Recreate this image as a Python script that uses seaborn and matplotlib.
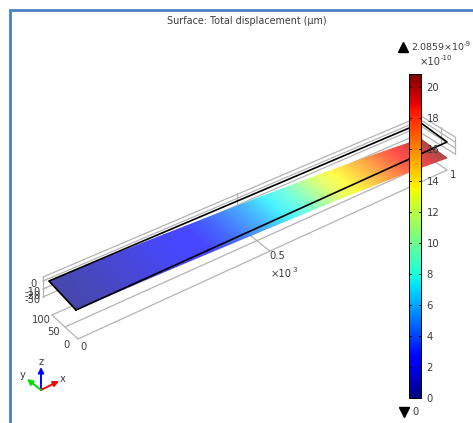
import numpy as np
import pandas as pd
import seaborn as sns
import matplotlib.pyplot as plt
from matplotlib.colors import ListedColormap

# values
length_pos = [0, 50, 100, 150, 200, 250, 300, 350, 400, 450, 500, 550, 600, 650, 700, 750, 800, 850, 900, 950, 1000]
disp_vals = [0, 0.3, 0.7, 1.1, 1.5, 2.0, 2.6, 3.4, 4.4, 5.6, 7.0, 8.6, 10.4, 12.3, 14.0, 15.2, 16.3, 17.6, 18.8, 19.8, 20.86]
sag_vals = [0, 0.3, 0.8, 1.3, 1.9, 2.5, 3.2, 3.9, 4.6, 5.3, 6.0, 6.7, 7.5, 8.3, 9.2, 10.2, 11.2, 12.3, 13.5, 14.7, 16.0]
width_pos = [0, 100]
cbar_ticks = [0, 2, 4, 6, 8, 10, 12, 14, 16, 18, 20]
cbar_max = 20.859
z_labels = ['0', '-10', '-20', '-30']
y_labels = ['100', '50', '0']

# layout, in screen pixels of the 473x423 picture
W, H = 473, 423
plate_corners = [(76, 310), (447, 142), (421, 123), (49, 281)]
floor_corners = [(78, 339), (447, 170), (421, 152), (52, 315)]
grey = '#b4b4b4'
txt = '#3c3c3c'


def homography(src, dst):
    A, b = [], []
    for (x, y), (u, v) in zip(src, dst):
        A.append([x, y, 1, 0, 0, 0, -u * x, -u * y])
        A.append([0, 0, 0, x, y, 1, -v * x, -v * y])
        b += [u, v]
    h = np.linalg.solve(np.array(A, float), np.array(b, float))
    return np.append(h, 1).reshape(3, 3)


HM = homography([(0, 0), (1000, 0), (1000, 100), (0, 100)], plate_corners)


def project(x, y, sag=0.0):
    x, y = np.asarray(x, float), np.asarray(y, float)
    d = HM[2, 0] * x + HM[2, 1] * y + 1
    sx = (HM[0, 0] * x + HM[0, 1] * y + HM[0, 2]) / d
    sy = (HM[1, 0] * x + HM[1, 1] * y + HM[1, 2]) / d
    return sx, sy + np.asarray(sag)


sns.set_style('white')
plt.rcParams['font.family'] = 'DejaVu Sans'
fig = plt.figure(figsize=(W / 100, H / 100), dpi=100)
ax = fig.add_axes([0, 0, 1, 1])
ax.set_xlim(0, W)
ax.set_ylim(H, 0)
ax.axis('off')


def seg(p, q, **kw):
    kw.setdefault('color', grey)
    kw.setdefault('lw', 0.9)
    ax.plot([p[0], q[0]], [p[1], q[1]], solid_capstyle='round', **kw)


def lerp(p, q, t):
    return (p[0] + (q[0] - p[0]) * t, p[1] + (q[1] - p[1]) * t)


def power_text(x, y, base, exp, size=7.2):
    # base text with a small raised exponent, left aligned
    t = ax.text(x, y, base, ha='left', va='center', fontsize=size, color=txt)
    bb = t.get_window_extent(fig.canvas.get_renderer())
    ax.text(bb.x1, y - 3.5, exp, ha='left', va='center', fontsize=5, color=txt)


# outer window border
ax.plot([10, 10, W], [H, 10, 10], color='#4a7fc1', lw=2.0, solid_joinstyle='miter')

# floor
fa, fb, fc, fd = floor_corners
for t in [0, 0.5, 1]:
    seg(lerp(fa, fd, t), lerp(fb, fc, t))
seg(fa, fd)
seg(fb, fc)
seg(lerp(fa, fb, 0.52), lerp(fd, fc, 0.52))

# back wall and right wall
wall_left = [277, 281, 289, 297]
wall_mid = [116, 120, 126, 133]
wall_right = [137, 142, 148, 154]
for a, b, c in zip(wall_left, wall_mid, wall_right):
    seg((43, a), (421, b))
    seg((421, b), (455, c))
seg((43, wall_left[0]), (43, wall_left[-1]))
seg((455, wall_right[0]), (455, wall_right[-1]))
seg((441, 127), (441, 143))
seg((237, 193), (237, 207))

# deformed plate, coloured by displacement
jet = plt.get_cmap('jet')(np.linspace(0, 1, 256))[:, :3]
lit = ListedColormap(np.clip(jet * 0.8 + 0.28, 0, 1))
xx, yy = np.meshgrid(length_pos, width_pos)
vals = np.tile(disp_vals, (2, 1))
sags = np.tile(sag_vals, (2, 1))
sx, sy = project(xx, yy, sags)
ax.pcolormesh(sx, sy, vals, shading='gouraud', cmap=lit, vmin=0, vmax=cbar_max, zorder=3)

# undeformed outline
edges = pd.DataFrame({
    'x': [0, 1000, 1000, 0, 0],
    'y': [0, 0, 100, 100, 0],
})
ox, oy = project(edges['x'], edges['y'])
sns.lineplot(x=ox, y=oy, sort=False, estimator=None, color='black', lw=1.2, ax=ax, zorder=4)

# tick labels on the box
for s, yp in zip(z_labels, [284, 292, 296, 300]):
    ax.text(33, yp, s, ha='center', va='center', fontsize=7.2, color=txt, zorder=5)
for s, p in zip(y_labels, [(41, 320), (53, 332), (66, 345)]):
    ax.text(p[0], p[1], s, ha='center', va='center', fontsize=7.2, color=txt)
ax.text(83, 347, '0', ha='center', va='center', fontsize=7.2, color=txt)
ax.text(277, 256, '0.5', ha='center', va='center', fontsize=7.2, color=txt)
power_text(271, 274, '×10', '3')
ax.text(453, 175, '1', ha='center', va='center', fontsize=7.2, color=txt)

ax.text(247, 21, 'Surface: Total displacement (µm)', ha='center', va='center', fontsize=6.9, color=txt)

# colour bar
cax = fig.add_axes([409 / W, 1 - 398 / H, 12 / W, 324 / H])
levels = np.linspace(cbar_max, 0, 324).reshape(-1, 1)
sns.heatmap(levels, cmap='jet', vmin=0, vmax=cbar_max, cbar=False, ax=cax, xticklabels=False, yticklabels=False)
cax.set_yticks([(cbar_max - v) / cbar_max * 324 for v in cbar_ticks])
cax.set_yticklabels([str(v) for v in cbar_ticks], fontsize=7.2, color=txt)
cax.yaxis.tick_right()
cax.tick_params(axis='y', length=0, pad=4)
for v in cbar_ticks:
    yv = (cbar_max - v) / cbar_max * 324
    cax.plot([0, 0.15], [yv, yv], color='black', lw=0.7)
    cax.plot([0.85, 1], [yv, yv], color='black', lw=0.7)
for sp in cax.spines.values():
    sp.set_visible(True)
    sp.set_color('black')
    sp.set_linewidth(0.7)

ax.plot([403], [47], marker='^', color='black', ms=7)
power_text(411, 47, '2.0859×10', '-9', size=6.8)
power_text(420, 62, '×10', '-10')
ax.plot([404], [412], marker='v', color='black', ms=7)
ax.text(415, 412, '0', ha='center', va='center', fontsize=7.2, color=txt)

# axis triad
origin = (41, 390)
triad = [((41, 367), '#0000ff', 'z', (41, 362)),
         ((59, 381), '#ff0000', 'x', (63, 379)),
         ((27, 379), '#00dd00', 'y', (23, 375))]
for tip, col, lab, lp in triad:
    ax.annotate('', xy=tip, xytext=origin, arrowprops=dict(arrowstyle='-|>', color=col, lw=1.4, mutation_scale=8, shrinkA=0, shrinkB=0))
    ax.text(lp[0], lp[1], lab, ha='center', va='center', fontsize=7.2, color=txt)

fig.savefig('out.png', dpi=100)
